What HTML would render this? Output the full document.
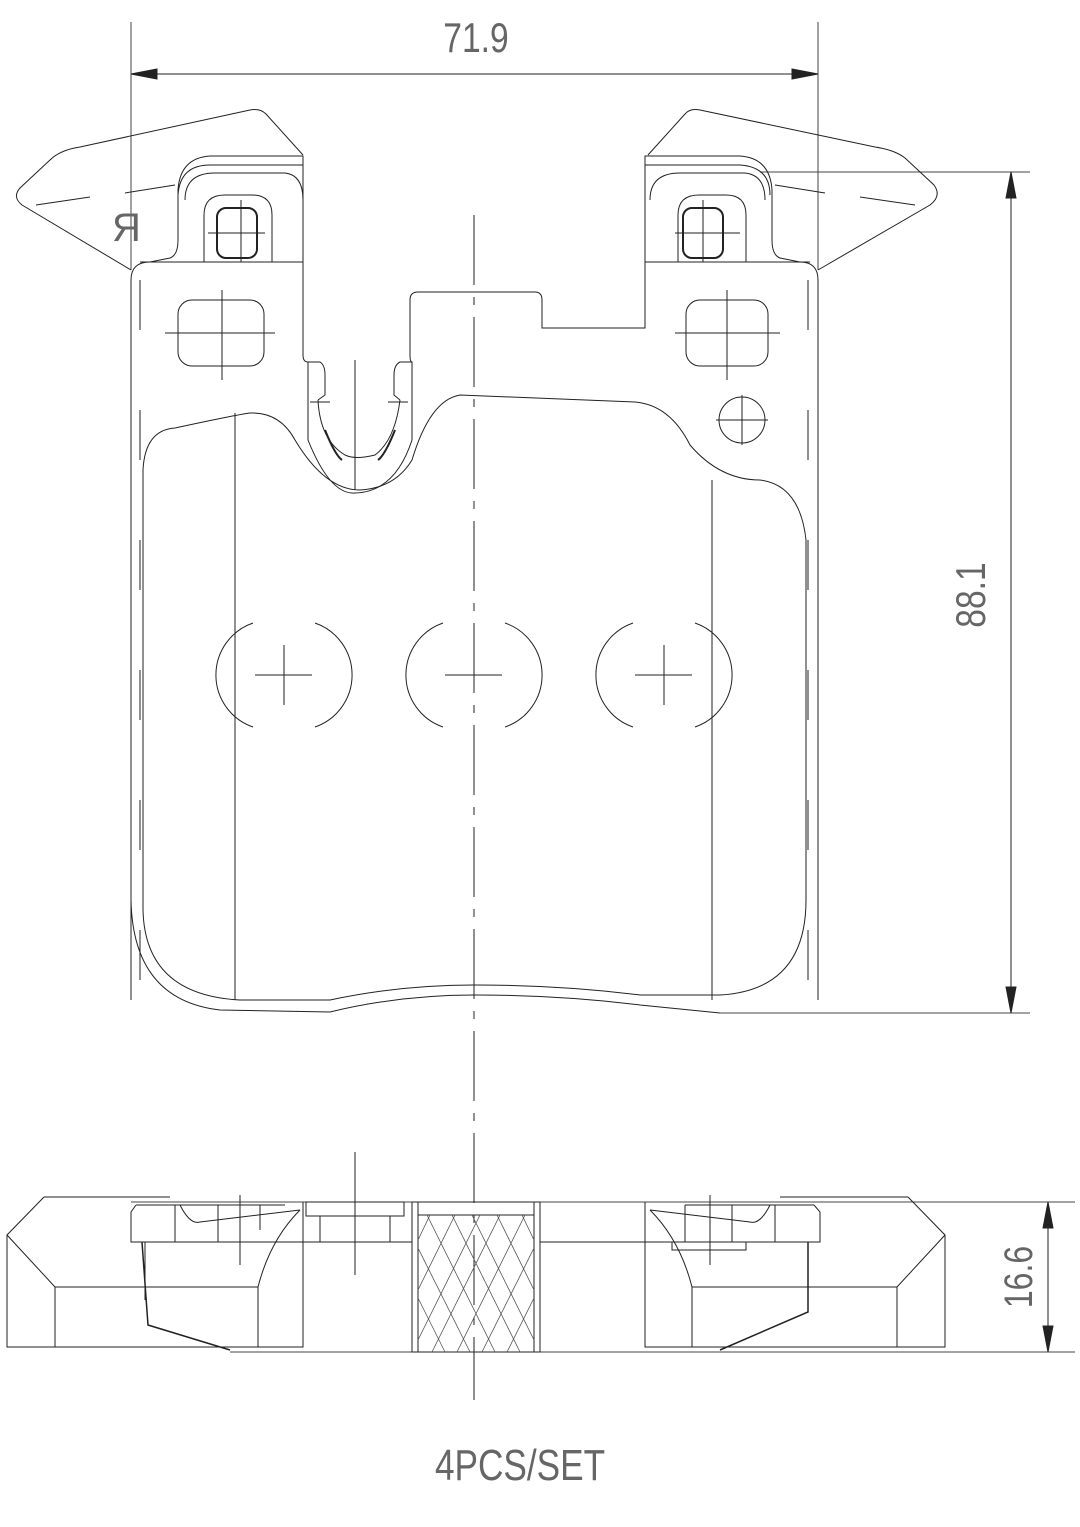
<!DOCTYPE html>
<html><head><style>
html,body{margin:0;padding:0;background:#fff;}
svg{display:block;}
text{font-family:"Liberation Sans",sans-serif;fill:#666;}
</style></head><body>
<svg width="1080" height="1527" viewBox="0 0 1080 1527" xmlns="http://www.w3.org/2000/svg" fill="none" stroke="#222" stroke-width="1">
<line x1="131" y1="22" x2="131" y2="270" stroke="#444"/>
<line x1="818" y1="22" x2="818" y2="270" stroke="#444"/>
<line x1="131" y1="74" x2="818" y2="74"/>
<polygon points="131,74 157,69 157,79" fill="#222"/>
<polygon points="818,74 792,69 792,79" fill="#222"/>
<text font-size="42" text-anchor="middle" stroke="none" transform="translate(476,52) scale(0.8,1)">71.9</text>
<line x1="760" y1="172" x2="1030" y2="172" stroke="#444"/>
<line x1="720" y1="1013" x2="1030" y2="1013" stroke="#444"/>
<line x1="1011" y1="172" x2="1011" y2="1013"/>
<polygon points="1011,172 1006,198 1016,198" fill="#222"/>
<polygon points="1011,1013 1006,987 1016,987" fill="#222"/>
<text transform="translate(985,595) rotate(-90) scale(0.8,1)" font-size="42" text-anchor="middle" stroke="none">88.1</text>
<line x1="474" y1="215" x2="474" y2="1400" stroke-dasharray="70,12,8,12"/>
<path d="M131,270 L22,205 Q12,197 20,188 L50,160 Q60,150 80,147 L250,110 Q260,108 266,114 L303,155"/>
<line x1="36" y1="205" x2="90" y2="197"/>
<line x1="125" y1="193" x2="175" y2="185"/>
<path d="M818,270 L930,205 Q942,196 934,185 L905,158 Q895,150 875,147 L700,110 Q690,108 685,114 L648,155"/>
<line x1="915" y1="205" x2="860" y2="197"/>
<line x1="825" y1="193" x2="775" y2="185"/>
<path d="M131,1000 L131,280 Q131,262 150,262 L170,258 Q178,255 178,240 L178,190 Q180,158 210,156 L303,156 L303,355 Q303,362 308,362 L308,440 Q330,495 355,493 Q395,492 412,440 L412,362 Q410,362 410,355 L410,300 Q410,292 418,292 L535,292 Q542,292 542,300 L542,328 L645,328 L645,156 L740,156 Q770,158 772,190 L772,240 Q772,255 780,258 L800,262 Q818,262 818,280 L818,1000"/>
<path d="M131,900 Q133,1000 220,1010 L330,1012 Q400,995 474,995 Q560,995 640,1005 L720,1013"/>
<path d="M178,195 Q180,165 210,165 L303,165"/>
<path d="M185,200 Q185,173 215,173 L285,173 Q303,175 303,200"/>
<path d="M645,165 L740,165 Q770,167 770,195"/>
<path d="M650,200 Q650,173 680,173 L745,173 Q765,175 765,200"/>
<line x1="140" y1="262" x2="303" y2="262"/>
<line x1="645" y1="262" x2="810" y2="262"/>
<line x1="140" y1="280" x2="140" y2="980" stroke-dasharray="50,80"/>
<line x1="808" y1="280" x2="808" y2="980" stroke-dasharray="50,80"/>
<path d="M204,262 L204,215 Q204,195 225,195 L252,195 Q272,195 272,215 L272,262"/>
<rect x="217" y="208" width="40" height="50" rx="9" stroke-width="2"/>
<line x1="208" y1="233" x2="265" y2="233"/><line x1="241" y1="200" x2="241" y2="262"/>
<path d="M678,262 L678,215 Q678,195 699,195 L726,195 Q746,195 746,215 L746,262"/>
<rect x="683" y="208" width="40" height="50" rx="9" stroke-width="2"/>
<line x1="675" y1="233" x2="740" y2="233"/><line x1="703" y1="200" x2="703" y2="262"/>
<rect x="178" y="300" width="86" height="66" rx="14"/>
<line x1="165" y1="333" x2="275" y2="333"/><line x1="222" y1="290" x2="222" y2="380"/>
<rect x="686" y="300" width="82" height="66" rx="14"/>
<line x1="675" y1="333" x2="780" y2="333"/><line x1="727" y1="290" x2="727" y2="380"/>
<circle cx="742" cy="420" r="23"/>
<line x1="716" y1="420" x2="768" y2="420"/><line x1="742" y1="395" x2="742" y2="445"/>
<path d="M308,362 L320,362 Q325,365 325,375 L325,395 L318,400" />
<path d="M412,362 L400,362 Q394,365 394,375 L394,395 L400,400"/>
<path d="M318,400 Q320,440 345,455 Q355,460 375,455 Q395,440 400,400"/>
<path d="M325,430 Q335,455 342,460" stroke-width="2"/>
<path d="M395,430 Q385,455 378,460" stroke-width="2"/>
<line x1="310" y1="402" x2="330" y2="402"/><line x1="388" y1="402" x2="408" y2="402"/>
<line x1="355" y1="360" x2="355" y2="490"/>
<path d="M143,910 L143,470 Q145,430 175,428 Q235,415 250,413 Q280,412 295,440 Q325,490 360,490 Q395,488 412,460 Q430,400 460,395 L635,402 Q670,405 690,445 Q720,480 760,480 Q800,485 806,540 L806,900 Q806,990 720,995 L640,995 Q560,985 474,985 Q400,985 330,1000 L240,1000 Q145,995 143,910 Z"/>
<line x1="235" y1="413" x2="235" y2="1000"/>
<line x1="712" y1="480" x2="712" y2="1000"/>
<g>
<path d="M253,623 A55,55 0 0 0 253,727 M315,727 A55,55 0 0 0 315,623" />
<line x1="255" y1="675" x2="312" y2="675"/><line x1="284" y1="645" x2="284" y2="705"/>
<path d="M443,623 A55,55 0 0 0 443,727 M505,727 A55,55 0 0 0 505,623"/>
<line x1="445" y1="675" x2="502" y2="675"/>
<path d="M633,623 A55,55 0 0 0 633,727 M695,727 A55,55 0 0 0 695,623"/>
<line x1="635" y1="675" x2="692" y2="675"/><line x1="664" y1="645" x2="664" y2="705"/>
</g>
<text x="112" y="241" font-size="40" stroke="none" fill="#333">Я</text>
<line x1="131" y1="1202" x2="1075" y2="1202" stroke="#444"/>
<line x1="230" y1="1352" x2="1075" y2="1352" stroke="#444"/>
<line x1="1048" y1="1202" x2="1048" y2="1352"/>
<polygon points="1048,1202 1043,1228 1053,1228" fill="#222"/>
<polygon points="1048,1352 1043,1326 1053,1326" fill="#222"/>
<text transform="translate(1032,1277) rotate(-90) scale(0.8,1)" font-size="40" text-anchor="middle" stroke="none">16.6</text>
<path d="M44,1197 L170,1197 M44,1197 L7,1235 L7,1347 L230,1347 M7,1235 L55,1287 L258,1287 M55,1287 L55,1347 M258,1287 L258,1347"/>
<path d="M230,1347 L303,1347 L303,1202"/>
<path d="M136,1205 L131,1212 L131,1242 L303,1242 M136,1205 L285,1205 M175,1205 L175,1242"/>
<path d="M180,1205 Q190,1225 200,1222 L300,1210"/>
<path d="M142,1242 L148,1325 L230,1350" stroke-width="1.5"/>
<line x1="145" y1="1242" x2="145" y2="1300"/>
<path d="M300,1210 Q270,1240 258,1287"/>
<line x1="218" y1="1205" x2="218" y2="1242"/><line x1="260" y1="1205" x2="260" y2="1230"/>
<line x1="240" y1="1195" x2="240" y2="1265"/>
<rect x="306" y="1202" width="98" height="14"/>
<line x1="320" y1="1216" x2="320" y2="1242"/><line x1="390" y1="1216" x2="390" y2="1242"/>
<line x1="303" y1="1242" x2="412" y2="1242"/>
<line x1="355" y1="1152" x2="355" y2="1275"/>
<rect x="412" y="1202" width="128" height="150"/>
<line x1="418" y1="1202" x2="418" y2="1352"/><line x1="534" y1="1202" x2="534" y2="1352"/>
<line x1="418" y1="1215" x2="534" y2="1215"/>
<g stroke="#555" stroke-width="0.8">
<line x1="418" y1="1240" x2="430" y2="1215"/>
<line x1="418" y1="1290" x2="455" y2="1215"/>
<line x1="418" y1="1340" x2="480" y2="1215"/>
<line x1="432" y1="1352" x2="500" y2="1215"/>
<line x1="457" y1="1352" x2="525" y2="1215"/>
<line x1="482" y1="1352" x2="534" y2="1248"/>
<line x1="507" y1="1352" x2="534" y2="1298"/>
<line x1="534" y1="1240" x2="522" y2="1215"/>
<line x1="534" y1="1290" x2="497" y2="1215"/>
<line x1="534" y1="1340" x2="472" y2="1215"/>
<line x1="520" y1="1352" x2="452" y2="1215"/>
<line x1="495" y1="1352" x2="427" y2="1215"/>
<line x1="470" y1="1352" x2="418" y2="1248"/>
<line x1="445" y1="1352" x2="418" y2="1298"/>
</g>
<line x1="540" y1="1242" x2="645" y2="1242"/>
<path d="M908,1197 L780,1197 M908,1197 L945,1235 L945,1347 L720,1347 M945,1235 L897,1287 L692,1287 M897,1287 L897,1347 M692,1287 L692,1347"/>
<path d="M720,1347 L645,1347 L645,1202"/>
<path d="M814,1205 L820,1212 L820,1242 L645,1242 M814,1205 L685,1205 M775,1205 L775,1242"/>
<path d="M770,1205 Q760,1225 750,1222 L650,1210"/>
<path d="M808,1242 L808,1312 L720,1350" stroke-width="1.5"/>
<path d="M650,1210 Q680,1240 692,1287"/>
<rect x="672" y="1242" width="74" height="8"/>
<line x1="685" y1="1205" x2="685" y2="1242"/><line x1="732" y1="1205" x2="732" y2="1242"/>
<line x1="710" y1="1195" x2="710" y2="1265"/>
<text font-size="44" text-anchor="middle" stroke="none" transform="translate(520,1480) scale(0.8,1)">4PCS/SET</text>
</svg>
</body></html>
